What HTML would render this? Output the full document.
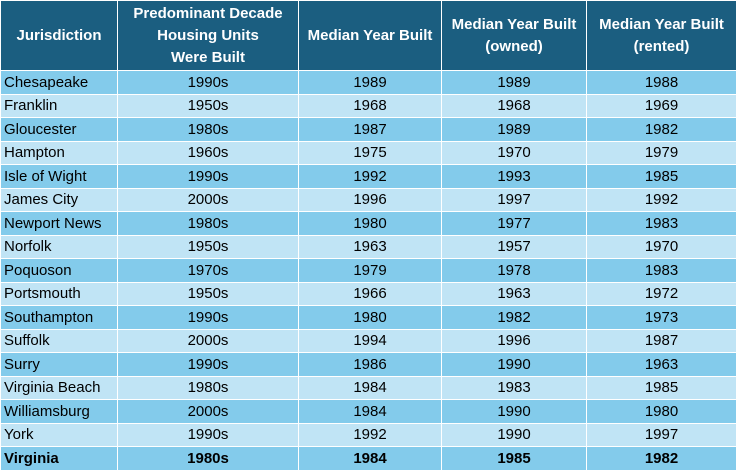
<!DOCTYPE html>
<html><head><style>
body{margin:0;width:736px;height:470px;overflow:hidden;background:#fff;font-family:"Liberation Sans",sans-serif;}
table{border-collapse:collapse;table-layout:fixed;width:736px;}
td,th{border:1.5px solid #fff;padding:0;font-size:15px;color:#000;text-align:center;}
th{background:#1b5e80;color:#fff;font-weight:bold;height:69px;line-height:22px;}
td{height:22.5px;}
td:first-child{text-align:left;padding-left:3px;}
tr:nth-child(odd) td{background:#83cbeb;}
tr:nth-child(even) td{background:#c0e4f5;}
tr.b td{font-weight:bold;}
</style></head><body>
<table>
<colgroup><col style="width:117px"><col style="width:181px"><col style="width:143px"><col style="width:145px"><col style="width:150px"></colgroup>
<thead><tr><th>Jurisdiction</th><th>Predominant Decade<br>Housing Units<br>Were Built</th><th>Median Year Built</th><th>Median Year Built<br>(owned)</th><th>Median Year Built<br>(rented)</th></tr></thead>
<tbody>
<tr><td>Chesapeake</td><td>1990s</td><td>1989</td><td>1989</td><td>1988</td></tr>
<tr><td>Franklin</td><td>1950s</td><td>1968</td><td>1968</td><td>1969</td></tr>
<tr><td>Gloucester</td><td>1980s</td><td>1987</td><td>1989</td><td>1982</td></tr>
<tr><td>Hampton</td><td>1960s</td><td>1975</td><td>1970</td><td>1979</td></tr>
<tr><td>Isle of Wight</td><td>1990s</td><td>1992</td><td>1993</td><td>1985</td></tr>
<tr><td>James City</td><td>2000s</td><td>1996</td><td>1997</td><td>1992</td></tr>
<tr><td>Newport News</td><td>1980s</td><td>1980</td><td>1977</td><td>1983</td></tr>
<tr><td>Norfolk</td><td>1950s</td><td>1963</td><td>1957</td><td>1970</td></tr>
<tr><td>Poquoson</td><td>1970s</td><td>1979</td><td>1978</td><td>1983</td></tr>
<tr><td>Portsmouth</td><td>1950s</td><td>1966</td><td>1963</td><td>1972</td></tr>
<tr><td>Southampton</td><td>1990s</td><td>1980</td><td>1982</td><td>1973</td></tr>
<tr><td>Suffolk</td><td>2000s</td><td>1994</td><td>1996</td><td>1987</td></tr>
<tr><td>Surry</td><td>1990s</td><td>1986</td><td>1990</td><td>1963</td></tr>
<tr><td>Virginia Beach</td><td>1980s</td><td>1984</td><td>1983</td><td>1985</td></tr>
<tr><td>Williamsburg</td><td>2000s</td><td>1984</td><td>1990</td><td>1980</td></tr>
<tr><td>York</td><td>1990s</td><td>1992</td><td>1990</td><td>1997</td></tr>
<tr class="b"><td>Virginia</td><td>1980s</td><td>1984</td><td>1985</td><td>1982</td></tr>
</tbody></table>
</body></html>
